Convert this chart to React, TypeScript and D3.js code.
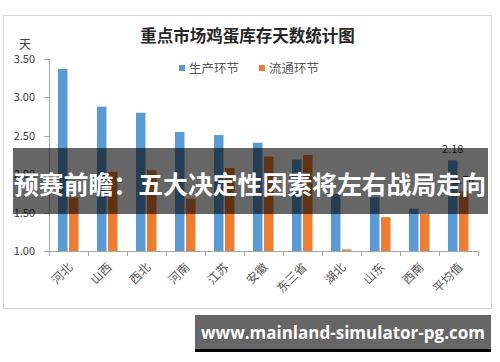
import React from "react";
import * as d3 from "d3";

const categories = ["河北", "山西", "西北", "河南", "江苏", "安徽", "东三省", "湖北", "山东", "西南", "平均值"];
const production = [3.37, 2.88, 2.8, 2.55, 2.51, 2.41, 2.19, 1.74, 1.7, 1.55, 2.18];
const circulation = [1.7, 2.03, 2.05, 1.68, 2.08, 2.23, 2.25, 1.02, 1.44, 1.48, 1.78];
const seriesNames = ["生产环节", "流通环节"];
const seriesColors = ["#5b9bd5", "#ed7d31"];
const yTicks = [1.0, 1.5, 2.0, 2.5, 3.0, 3.5];
const title = "重点市场鸡蛋库存天数统计图";
const yUnit = "天";
const banner = "预赛前瞻：五大决定性因素将左右战局走向";
const url = "www.mainland-simulator-pg.com";

export default function App() {
  const W = 500, H = 362;
  const x0 = 49, x1 = 478, yTop = 59, yBot = 251;
  const x = d3.scaleBand<string>().domain(categories).range([x0, x1]).paddingInner(0).paddingOuter(0);
  const xs = d3.scaleBand<string>().domain(seriesNames).range([9, 29.5]).paddingInner(0.14);
  const y = d3.scaleLinear().domain([1, 3.5]).range([yBot, yTop]);
  const data = [production, circulation];
  const font = "'Noto Sans CJK SC', 'Noto Sans', sans-serif";
  const lastIdx = categories.length - 1;

  return (
    <svg width={W} height={H} style={{ position: "absolute", left: 0, top: 0, background: "#fff" }}>
      <rect x={3.5} y={15.5} width={488} height={293} fill="#fff" stroke="#d9d9d9" />
      <text x={247.5} y={42} textAnchor="middle" fontFamily={font} fontWeight="bold" fontSize={16.5} fill="#262626">{title}</text>
      {/* legend */}
      {seriesNames.map((s, i) => (
        <g key={s} transform={`translate(${i === 0 ? 179 : 259},0)`}>
          <rect x={0} y={65} width={6} height={6} fill={seriesColors[i]} />
          <text x={10} y={72.5} fontFamily={font} fontSize={12.5} fill="#595959">{s}</text>
        </g>
      ))}
      {/* y axis */}
      <text x={25} y={49} textAnchor="middle" fontFamily={font} fontSize={12} fill="#404040">{yUnit}</text>
      <line x1={x0 + 0.5} x2={x0 + 0.5} y1={yTop} y2={yBot} stroke="#a6a6a6" />
      {yTicks.map((t) => (
        <g key={t}>
          <line x1={x0 - 5} x2={x0} y1={Math.round(y(t)) + 0.5} y2={Math.round(y(t)) + 0.5} stroke="#a6a6a6" />
          <text x={35} y={y(t) + 4} textAnchor="end" fontFamily={font} fontSize={11} fill="#404040">{d3.format(".2f")(t)}</text>
        </g>
      ))}
      {/* bars */}
      {categories.map((c, ci) => (
        <g key={c}>
          {data.map((arr, si) => (
            <rect key={si} x={(x(c) as number) + (xs(seriesNames[si]) as number)} y={y(arr[ci])} width={xs.bandwidth()} height={yBot - y(arr[ci])} fill={seriesColors[si]} />
          ))}
        </g>
      ))}
      {/* x axis */}
      <line x1={x0} x2={x1} y1={yBot + 0.5} y2={yBot + 0.5} stroke="#a6a6a6" />
      {categories.concat([""]).map((c, i) => {
        const xx = Math.round(x0 + i * x.bandwidth()) + 0.5;
        return <line key={i} x1={xx} x2={xx} y1={yBot} y2={yBot + 5} stroke="#a6a6a6" />;
      })}
      {categories.map((c) => {
        const cx = (x(c) as number) + x.bandwidth() / 2;
        return (
          <text key={c} transform={`translate(${cx + 5},${yBot + 17}) rotate(-45)`} textAnchor="end" fontFamily={font} fontSize={12} fill="#595959">{c}</text>
        );
      })}
      {/* average labels */}
      <text x={(x(categories[lastIdx]) as number) + (xs(seriesNames[0]) as number) + xs.bandwidth() / 2} y={y(production[lastIdx]) - 7} textAnchor="middle" fontFamily={font} fontSize={11} fill="#404040">{d3.format(".2f")(production[lastIdx])}</text>
      <text x={(x(categories[lastIdx]) as number) + (xs(seriesNames[1]) as number) + xs.bandwidth() / 2} y={y(circulation[lastIdx]) - 7} textAnchor="middle" fontFamily={font} fontSize={11} fill="#404040">{d3.format(".2f")(circulation[lastIdx])}</text>
      {/* banner overlay */}
      <rect x={13} y={148} width={475} height={66} fill="rgba(0,0,0,0.6)" />
      <text x={250} y={194} textAnchor="middle" fontFamily={font} fontWeight="bold" fontSize={25} fill="#fff" textLength={472} lengthAdjust="spacingAndGlyphs">{banner}</text>
      {/* url box */}
      <rect x={195} y={315} width={296} height={34} fill="#666" />
      <rect x={195} y={349} width={296} height={3} fill="#000" />
      <text x={343} y={339} textAnchor="middle" fontFamily="'Open Sans', 'DejaVu Sans', sans-serif" fontWeight="bold" fontSize={17} fill="#fff">{url}</text>
    </svg>
  );
}
